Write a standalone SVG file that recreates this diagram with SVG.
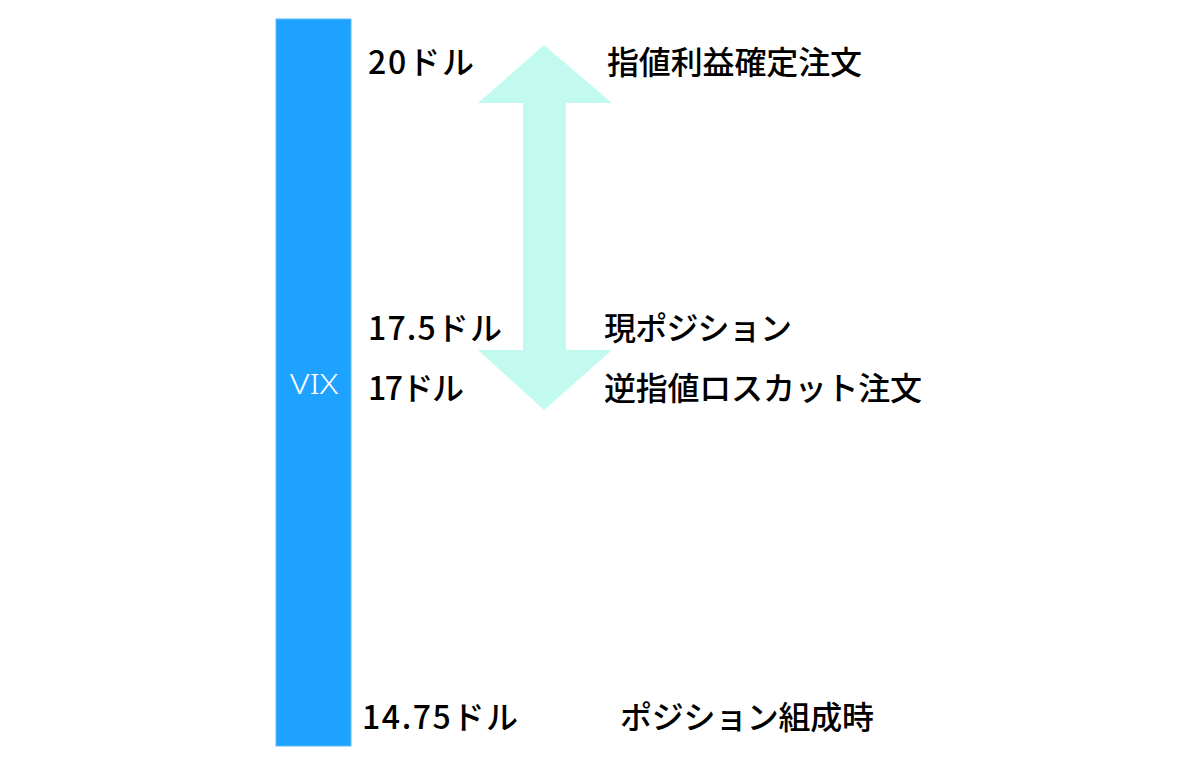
<svg xmlns="http://www.w3.org/2000/svg" width="1200" height="769" viewBox="0 0 1200 769">
<style>
.t{font-family:"Noto Sans CJK JP","Noto Sans",sans-serif;font-size:32px;font-weight:500;fill:#000}
.v{font-family:"Noto Sans","Noto Sans CJK JP",sans-serif;font-size:28px;font-weight:300;fill:#fff}
</style>
<rect width="1200" height="769" fill="#fff"/>
<g id="vix-bar">
<rect x="276" y="19" width="75" height="727" fill="#1EA2FF" stroke="#5BBBFF" stroke-width="1"/>
<text class="v" x="290" y="394" textLength="48" lengthAdjust="spacingAndGlyphs">VIX</text>
</g>
<g id="connectors">
<path d="M544,45 L612,103 L566,103 L566,350 L612,350 L544,410 L478,350 L523,350 L523,103 L478,103 Z" fill="#C3FAF0"/>
</g>
<g id="n20"><text class="t" x="368" y="74" textLength="106">20ドル</text><text class="t" x="607" y="74" textLength="255">指値利益確定注文</text></g>
<g id="n175"><text class="t" x="368" y="340" textLength="134">17.5ドル</text><text class="t" x="604" y="340" textLength="188">現ポジション</text></g>
<g id="n17"><text class="t" x="368" y="400" textLength="96">17ドル</text><text class="t" x="604" y="400" textLength="318">逆指値ロスカット注文</text></g>
<g id="n1475"><text class="t" x="362" y="729" textLength="156">14.75ドル</text><text class="t" x="620" y="729" textLength="254">ポジション組成時</text></g>
</svg>
